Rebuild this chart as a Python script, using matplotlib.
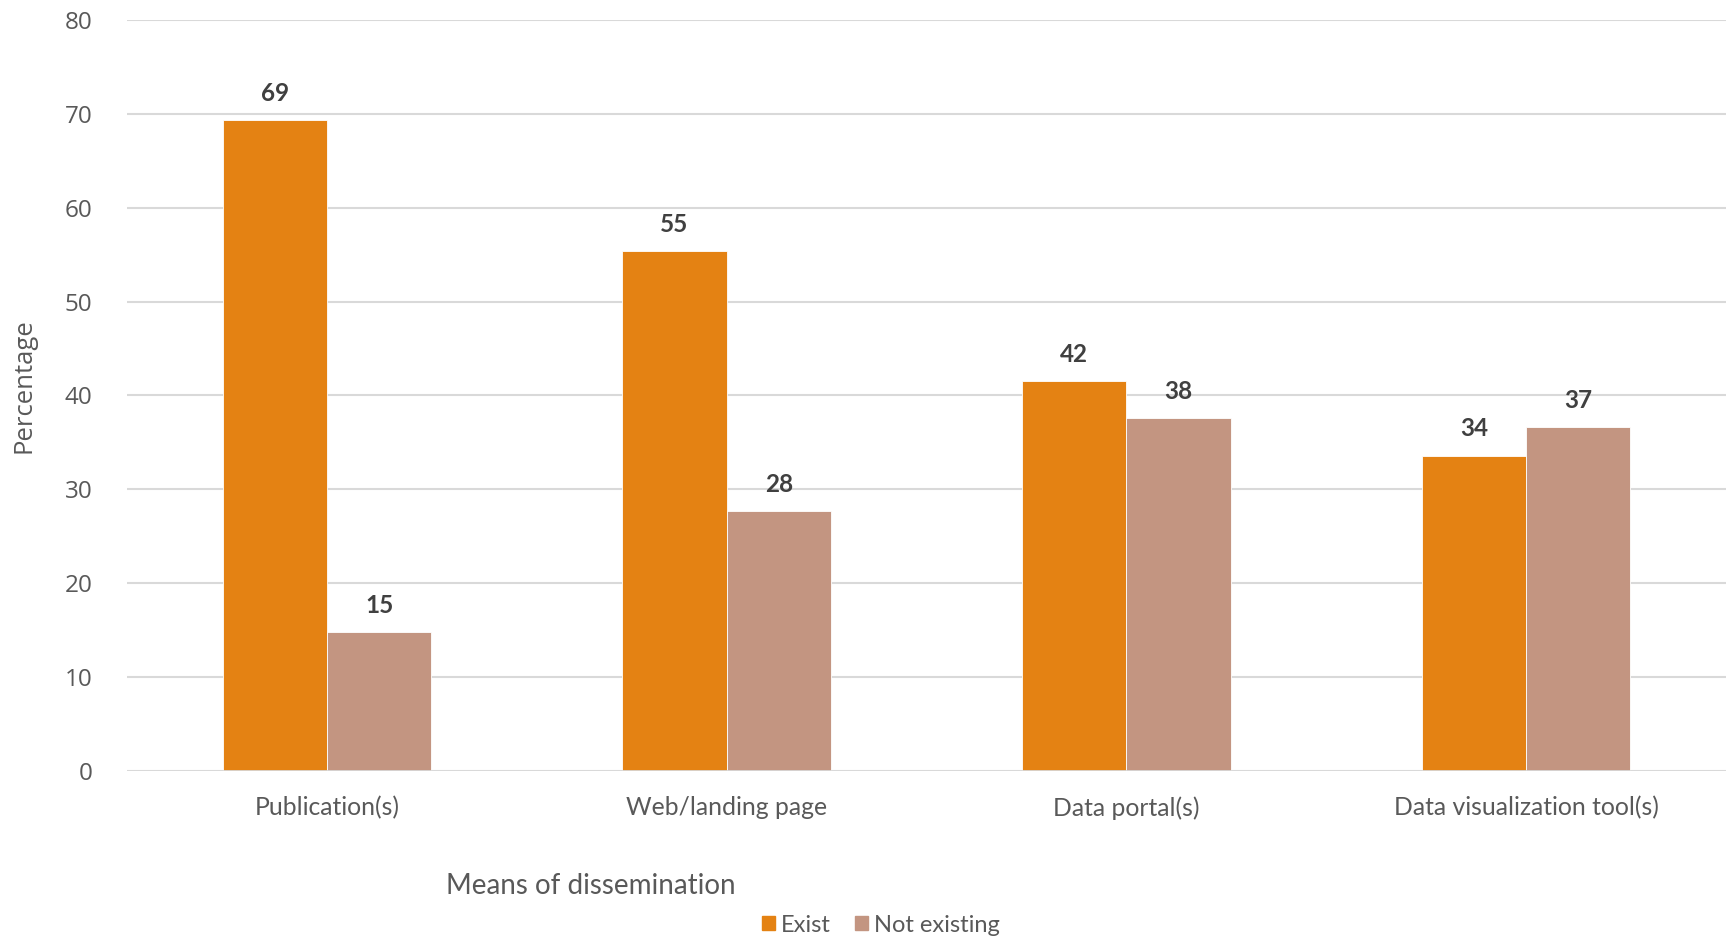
import matplotlib
matplotlib.use("Agg")
import matplotlib.pyplot as plt
import numpy as np
from matplotlib.patches import Patch

categories = ["Publication(s)", "Web/landing page", "Data portal(s)", "Data visualization tool(s)"]
exist = [69.3, 55.4, 41.5, 33.6]
not_existing = [14.8, 27.7, 37.6, 36.6]
series_names = ["Exist", "Not existing"]
yticks = [0, 10, 20, 30, 40, 50, 60, 70, 80]

c_exist = "#E48213"
c_not = "#C39581"
grid_c = "#D9D9D9"
tick_c = "#595959"
lab_c = "#404040"
FONT = "Lato"
TFONT = "Open Sans"

fig = plt.figure(figsize=(17.26, 9.40), dpi=100)
ax = fig.add_axes([127/1726, 1-771/940, 1-127/1726, (771-20)/940])

x = np.arange(len(categories))
w = 0.261
b1 = ax.bar(x - w/2, exist, w, color=c_exist, edgecolor="white", linewidth=0.6, zorder=3)
b2 = ax.bar(x + w/2, not_existing, w, color=c_not, edgecolor="white", linewidth=0.6, zorder=3)

for bars, vals in ((b1, exist), (b2, not_existing)):
    for rect, v in zip(bars, vals):
        ax.annotate(f"{v:.0f}", (rect.get_x() + rect.get_width()/2, v),
                    xytext=(0, 11), textcoords="offset points", ha="center", va="bottom",
                    fontsize=17.5, fontweight="bold", color=lab_c, family=FONT)

ax.set_xlim(-0.5, 3.5)
ax.set_ylim(0, 80)
ax.set_yticks(yticks)
ax.set_yticklabels([str(t) for t in yticks], fontsize=17.5, color=tick_c, family=TFONT)
ax.yaxis.grid(True, color=grid_c, linewidth=1.5, zorder=0)
ax.set_axisbelow(True)
ax.tick_params(axis="y", length=0, pad=25)
ax.tick_params(axis="x", length=0, pad=18)
ax.set_xticks(x)
ax.set_xticklabels(categories, fontsize=17.8, color=tick_c, family=FONT)
for s in ax.spines.values():
    s.set_visible(False)
ax.axhline(0, color=grid_c, linewidth=2, zorder=4)

fig.text(24/1726, 1-386/940, "Percentage", rotation=90, ha="center", va="center",
         fontsize=18.5, color=tick_c, family=TFONT)
fig.text(591/1726, 1-886/940, "Means of dissemination", ha="center", va="center",
         fontsize=20, color=tick_c, family=FONT)

handles = [Patch(color=c_exist), Patch(color=c_not)]
leg = fig.legend(handles, series_names, loc="center", bbox_to_anchor=(881/1726, 1-925/940),
                 ncol=2, frameon=False, fontsize=17, handlelength=0.55, handleheight=0.55,
                 handletextpad=0.25, columnspacing=1.0, borderpad=0)
for t in leg.get_texts():
    t.set_color(tick_c)
    t.set_family(FONT)

fig.savefig("out.png", dpi=100)
